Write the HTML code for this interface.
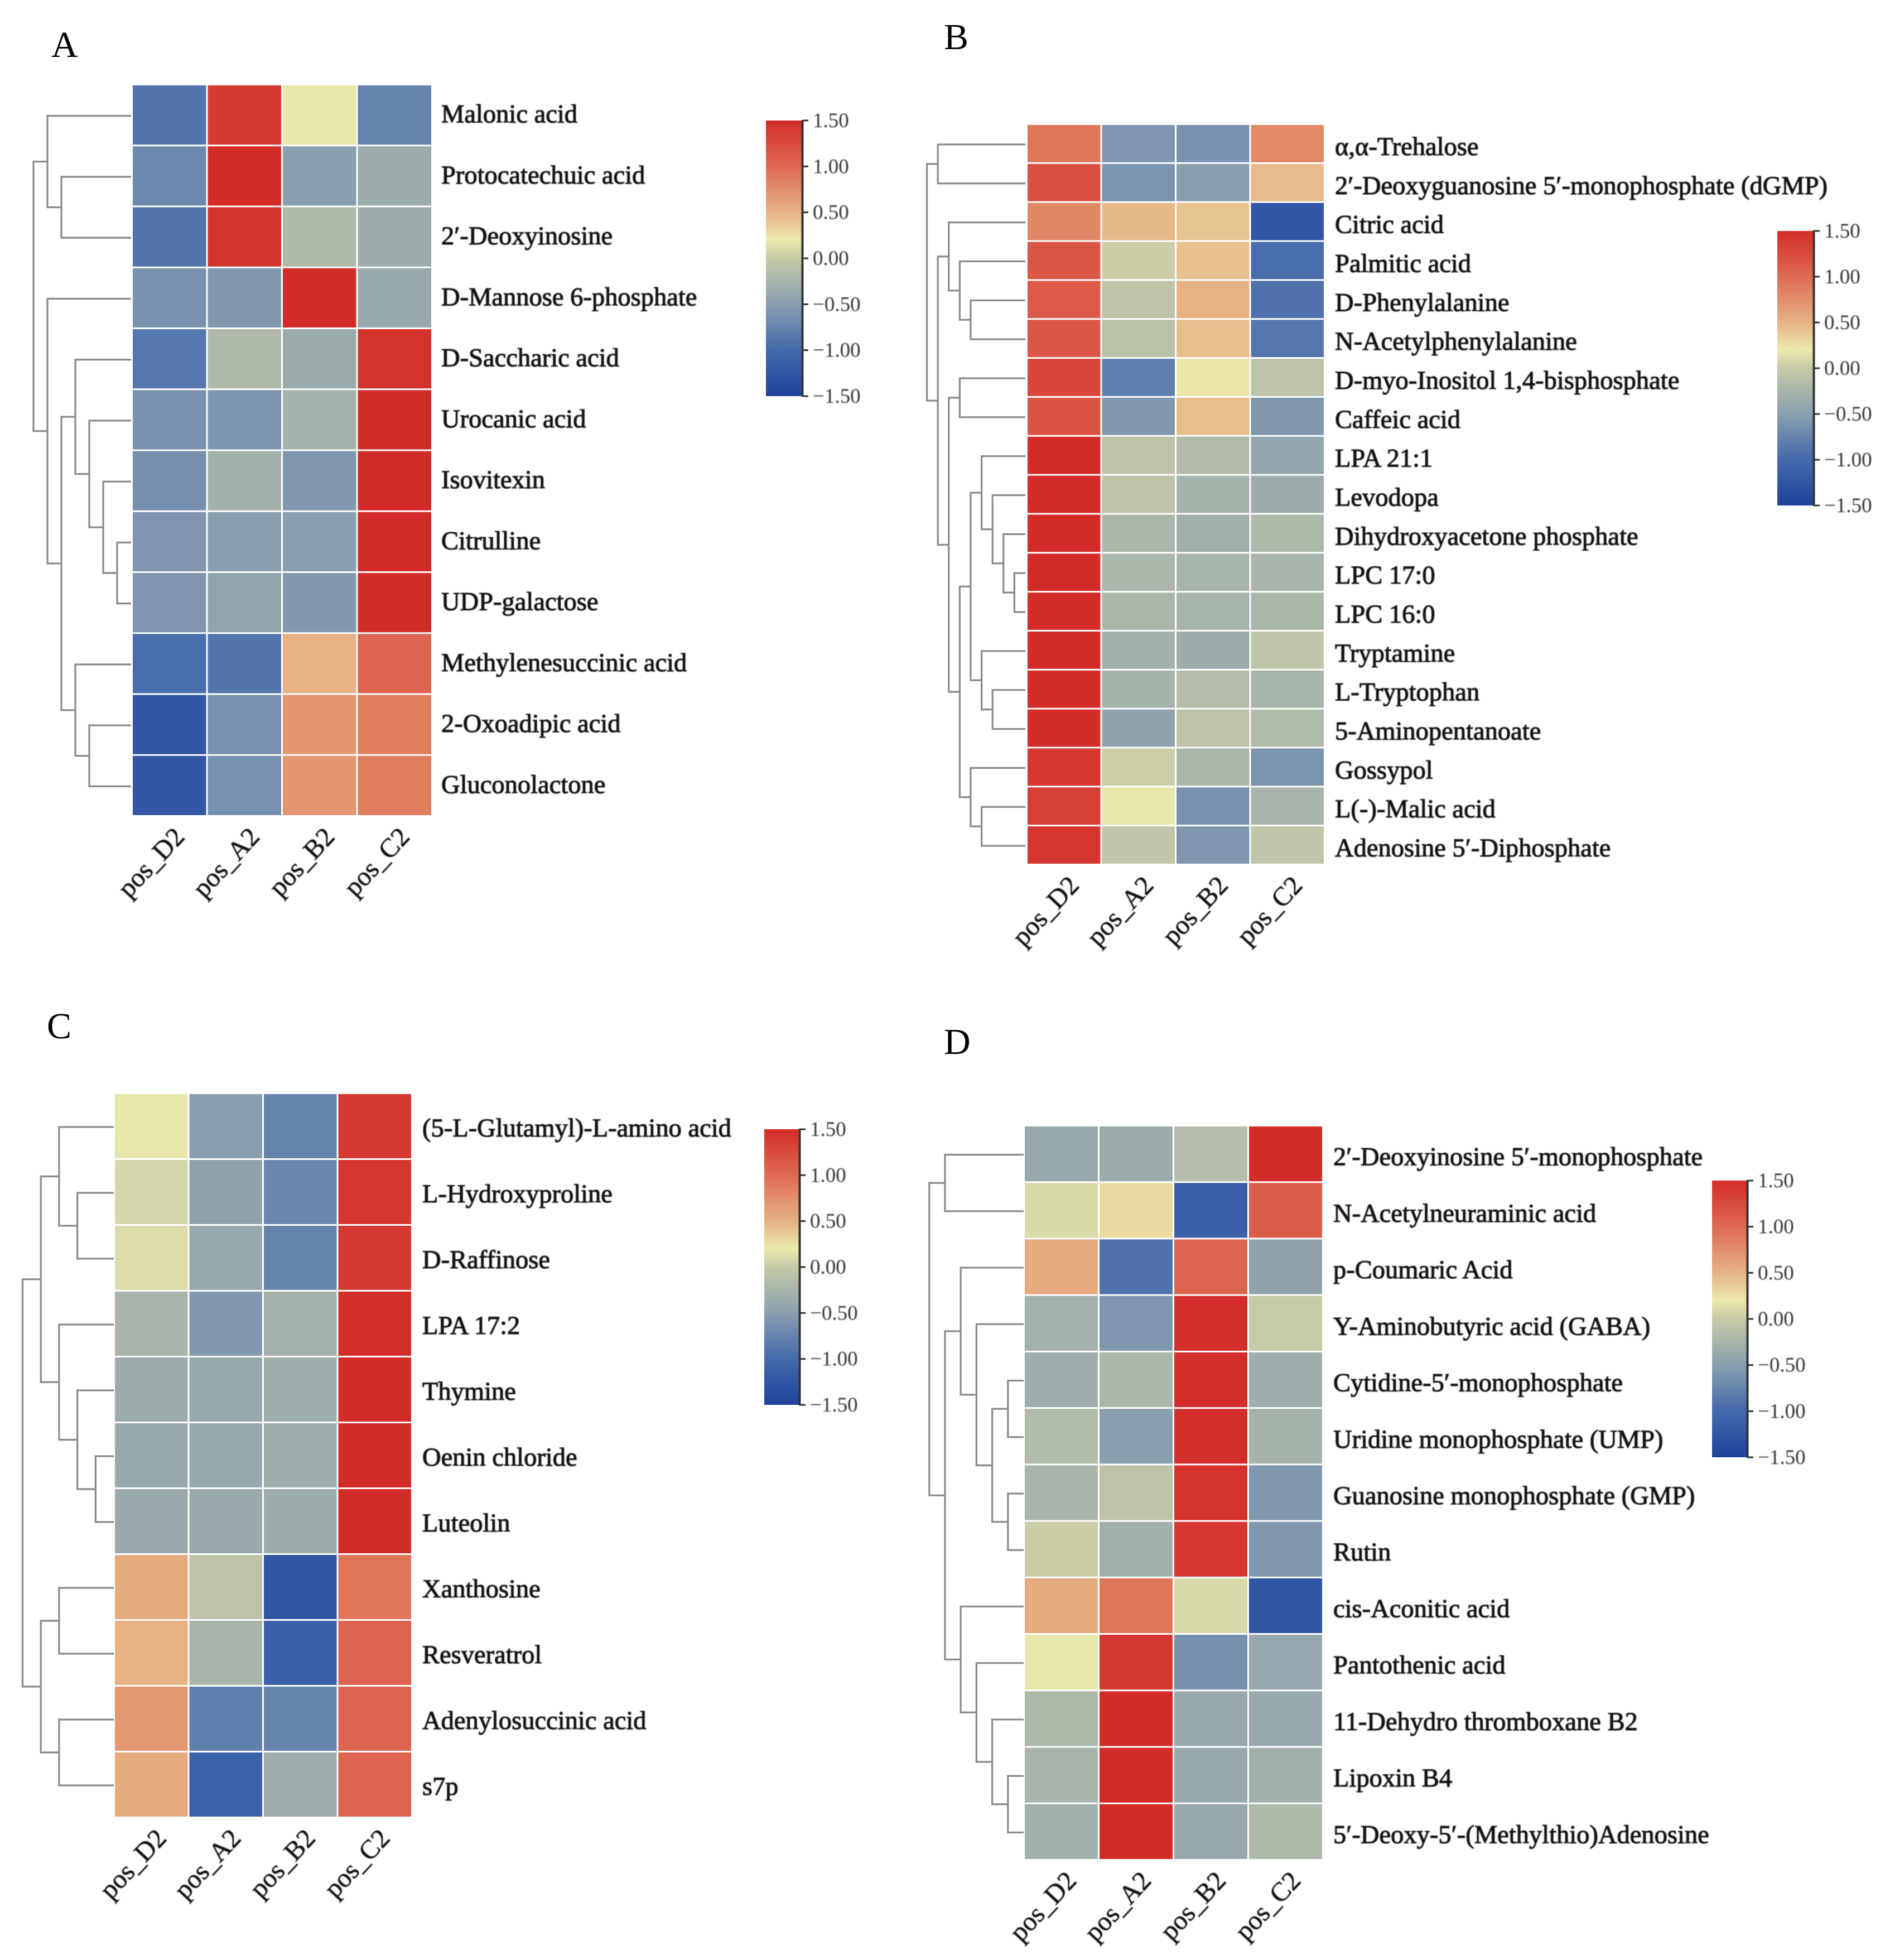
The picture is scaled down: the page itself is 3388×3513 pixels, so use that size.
<!DOCTYPE html>
<html>
<head>
<meta charset="utf-8">
<title>Metabolite heatmaps</title>
<style>
html,body{margin:0;padding:0;background:#fff;}
svg{display:block;}
text{font-family:"Liberation Serif","DejaVu Serif",serif;}
.blur{filter:blur(0.7px);}
</style>
</head>
<body>
<svg id="figure" xmlns="http://www.w3.org/2000/svg" width="3388" height="3513" viewBox="0 0 3388 3513">
<rect x="0" y="0" width="3388" height="3513" fill="#fff"/>
<defs id="defs"></defs>
</svg>
<script>
// ---------- shared data ----------
const sampleNames = ["pos_D2", "pos_A2", "pos_B2", "pos_C2"];
const legendTicks = [1.5, 1.0, 0.5, 0.0, -0.5, -1.0, -1.5];
const legendTickLabels = ["1.50", "1.00", "0.50", "0.00", "\u22120.50", "\u22121.00", "\u22121.50"];
const scaleValues = [-1.5, -1.0, -0.5, 0.0, 0.2, 0.5, 1.0, 1.5];
const scaleColors = ["#1f439b", "#4469ac", "#8a9fae", "#c6caa8", "#ebe9ab", "#e6b284", "#de6a52", "#d32c28"];

// ---------- panel A ----------
const metabolitesA = ["Malonic acid", "Protocatechuic acid", "2\u2032-Deoxyinosine", "D-Mannose 6-phosphate", "D-Saccharic acid", "Urocanic acid", "Isovitexin", "Citrulline", "UDP-galactose", "Methylenesuccinic acid", "2-Oxoadipic acid", "Gluconolactone"];
const valuesA = [
  [-0.90, 1.38, 0.18, -0.75],
  [-0.70, 1.50, -0.50, -0.35],
  [-0.90, 1.45, -0.20, -0.35],
  [-0.62, -0.56, 1.50, -0.38],
  [-0.87, -0.20, -0.36, 1.45],
  [-0.62, -0.60, -0.28, 1.50],
  [-0.65, -0.30, -0.57, 1.50],
  [-0.58, -0.50, -0.50, 1.50],
  [-0.58, -0.44, -0.55, 1.50],
  [-0.97, -0.90, 0.50, 1.05],
  [-1.25, -0.63, 0.70, 0.87],
  [-1.25, -0.63, 0.70, 0.87]
];
// tree nodes: [merge level, left child, right child]; a number child is a row index
const treeA = [7,
  [6, 0, [5, 1, 2]],
  [6, 3, [5,
    [4, 4, [3, 5, [2, 6, [1, 7, 8]]]],
    [4, 9, [3, 10, 11]]
  ]]
];

// ---------- panel B ----------
const metabolitesB = ["\u03b1,\u03b1-Trehalose", "2\u2032-Deoxyguanosine 5\u2032-monophosphate (dGMP)", "Citric acid", "Palmitic acid", "D-Phenylalanine", "N-Acetylphenylalanine", "D-myo-Inositol 1,4-bisphosphate", "Caffeic acid", "LPA 21:1", "Levodopa", "Dihydroxyacetone phosphate", "LPC 17:0", "LPC 16:0", "Tryptamine", "L-Tryptophan", "5-Aminopentanoate", "Gossypol", "L(-)-Malic acid", "Adenosine 5\u2032-Diphosphate"];
const valuesB = [
  [0.92, -0.58, -0.62, 0.78],
  [1.20, -0.60, -0.50, 0.45],
  [0.80, 0.47, 0.40, -1.25],
  [1.15, 0.02, 0.42, -0.97],
  [1.12, -0.08, 0.50, -0.92],
  [1.15, -0.10, 0.43, -0.87],
  [1.28, -0.80, 0.22, -0.07],
  [1.18, -0.57, 0.43, -0.57],
  [1.50, -0.08, -0.17, -0.43],
  [1.50, -0.07, -0.27, -0.35],
  [1.50, -0.22, -0.32, -0.20],
  [1.50, -0.22, -0.26, -0.24],
  [1.50, -0.22, -0.26, -0.22],
  [1.50, -0.30, -0.35, -0.05],
  [1.50, -0.27, -0.15, -0.25],
  [1.50, -0.45, -0.08, -0.18],
  [1.42, 0.03, -0.22, -0.60],
  [1.35, 0.18, -0.63, -0.24],
  [1.42, -0.05, -0.58, -0.05]
];
const treeB = [9,
  [8, 0, 1],
  [8,
    [7, 2, [6, 3, [5, 4, 5]]],
    [7,
      [6, 6, 7],
      [6,
        [5,
          [4, 8, [3, 9, [2, 10, [1, 11, 12]]]],
          [4, 13, [3, 14, 15]]
        ],
        [5, 16, [4, 17, 18]]
      ]
    ]
  ]
];

// ---------- panel C ----------
const metabolitesC = ["(5-L-Glutamyl)-L-amino acid", "L-Hydroxyproline", "D-Raffinose", "LPA 17:2", "Thymine", "Oenin chloride", "Luteolin", "Xanthosine", "Resveratrol", "Adenylosuccinic acid", "s7p"];
const valuesC = [
  [0.18, -0.50, -0.75, 1.40],
  [0.08, -0.45, -0.72, 1.43],
  [0.12, -0.38, -0.75, 1.40],
  [-0.24, -0.55, -0.29, 1.48],
  [-0.35, -0.38, -0.33, 1.50],
  [-0.38, -0.38, -0.33, 1.50],
  [-0.37, -0.37, -0.35, 1.50],
  [0.55, -0.08, -1.25, 0.92],
  [0.50, -0.24, -1.12, 1.05],
  [0.68, -0.80, -0.75, 1.05],
  [0.55, -1.10, -0.33, 1.05]
];
const treeC = [5,
  [4,
    [3, 0, [2, 1, 2]],
    [3, 3, [2, 4, [1, 5, 6]]]
  ],
  [4,
    [3, 7, 8],
    [3, 9, 10]
  ]
];

// ---------- panel D ----------
const metabolitesD = ["2\u2032-Deoxyinosine 5\u2032-monophosphate", "N-Acetylneuraminic acid", "p-Coumaric Acid", "Y-Aminobutyric acid (GABA)", "Cytidine-5\u2032-monophosphate", "Uridine monophosphate (UMP)", "Guanosine monophosphate (GMP)", "Rutin", "cis-Aconitic acid", "Pantothenic acid", "11-Dehydro thromboxane B2", "Lipoxin B4", "5\u2032-Deoxy-5\u2032-(Methylthio)Adenosine"];
const valuesD = [
  [-0.38, -0.36, -0.15, 1.50],
  [0.10, 0.28, -1.12, 1.10],
  [0.55, -0.92, 1.05, -0.45],
  [-0.29, -0.58, 1.48, 0.00],
  [-0.33, -0.22, 1.48, -0.33],
  [-0.18, -0.50, 1.48, -0.27],
  [-0.24, -0.08, 1.45, -0.57],
  [0.02, -0.30, 1.42, -0.57],
  [0.55, 0.92, 0.10, -1.25],
  [0.18, 1.40, -0.65, -0.40],
  [-0.20, 1.50, -0.38, -0.38],
  [-0.24, 1.50, -0.38, -0.30],
  [-0.30, 1.50, -0.38, -0.20]
];
const treeD = [6,
  [5, 0, 1],
  [5,
    [4, 2, [3, 3, [2, [1, 4, 5], [1, 6, 7]]]],
    [4, 8, [3, 9, [2, 10, [1, 11, 12]]]]
  ]
];

// ---------- layout (pixels) ----------
const panelLayouts = [
  {id:"a", letter:"A", letterX:92, letterY:102, left:238, right:776, top:153, bottom:1464, labelX:791, labelDy:12, levelStep:25, leafEnd:235, barLeft:1373, barRight:1437, barTop:216, barBottom:710, names:metabolitesA, values:valuesA, tree:treeA},
  {id:"b", letter:"B", letterX:1692, letterY:88, left:1842, right:2376, top:224, bottom:1551, labelX:2393, labelDy:19, levelStep:19.6, leafEnd:1838, barLeft:3186, barRight:3250, barTop:414, barBottom:906, names:metabolitesB, values:valuesB, tree:treeB},
  {id:"c", letter:"C", letterX:84, letterY:1861, left:206, right:740, top:1961, bottom:3259, labelX:757, labelDy:17, levelStep:32.7, leafEnd:204, barLeft:1370, barRight:1432, barTop:2024, barBottom:2518, names:metabolitesC, values:valuesC, tree:treeC},
  {id:"d", letter:"D", letterX:1692, letterY:1889, left:1837, right:2373, top:2019, bottom:3335, labelX:2390, labelDy:19, levelStep:28.2, leafEnd:1835, barLeft:3069, barRight:3131, barTop:2116, barBottom:2612, names:metabolitesD, values:valuesD, tree:treeD}
];

const svgNS = "http://www.w3.org/2000/svg";
const figure = document.getElementById("figure");
const defs = document.getElementById("defs");

function make(tag, attrs, parent) {
  const el = document.createElementNS(svgNS, tag);
  for (const k in attrs) el.setAttribute(k, attrs[k]);
  if (parent) parent.appendChild(el);
  return el;
}

function hexToRgb(h) {
  return [parseInt(h.slice(1,3),16), parseInt(h.slice(3,5),16), parseInt(h.slice(5,7),16)];
}
function colorFor(v) {
  const c = Math.max(scaleValues[0], Math.min(scaleValues[scaleValues.length-1], v));
  for (let i = 0; i < scaleValues.length - 1; i++) {
    if (c <= scaleValues[i+1]) {
      const t = (c - scaleValues[i]) / (scaleValues[i+1] - scaleValues[i]);
      const a = hexToRgb(scaleColors[i]), b = hexToRgb(scaleColors[i+1]);
      return "rgb(" + a.map((x,j) => Math.round(x + (b[j]-x)*t)).join(",") + ")";
    }
  }
  return scaleColors[scaleColors.length-1];
}
function slug(s) {
  return s.toLowerCase().replace(/[^a-z0-9]+/g, "-").replace(/^-|-$/g, "");
}

function drawTree(node, yOf, xOf, parent, prefix) {
  if (typeof node === "number") return {x: xOf(0), y: yOf(node)};
  const l = drawTree(node[1], yOf, xOf, parent, prefix);
  const r = drawTree(node[2], yOf, xOf, parent, prefix);
  const x = xOf(node[0]);
  const path = make("path", {
    d: "M" + l.x + " " + l.y + "H" + x + "V" + r.y + "H" + r.x,
    fill: "none", stroke: "#8a8a8a", "stroke-width": 3.2
  }, parent);
  
  
  return {x: x, y: (l.y + r.y) / 2};
}

panelLayouts.forEach(function (p) {
  const panel = make("g", {}, figure);
  
  

  const letter = make("text", {x: p.letterX, y: p.letterY, "font-size": 66, fill: "#000"}, panel);
  letter.textContent = p.letter;
  
  

  // axis functions
  const colW = (p.right - p.left) / sampleNames.length;
  const rowH = (p.bottom - p.top) / p.names.length;
  const xBand = i => p.left + i * colW;
  const yBand = i => p.top + i * rowH;
  const yCenter = i => yBand(i) + rowH / 2;
  const xLevel = lvl => p.leafEnd - lvl * p.levelStep;
  const yLegend = v => p.barTop + (1.5 - v) / 3 * (p.barBottom - p.barTop);

  // heatmap
  const cells = make("g", {}, panel);
  
  
  p.values.forEach(function (row, r) {
    row.forEach(function (v, c) {
      const cell = make("rect", {
        x: xBand(c), y: yBand(r),
        width: colW - 3, height: rowH - 3,
        fill: colorFor(v)
      }, cells);
      
      
    });
  });

  // dendrogram
  const dendro = make("g", {}, panel);
  
  
  drawTree(p.tree, yCenter, xLevel, dendro, 'panel-' + p.id);

  // row labels
  const rowLabels = make("g", {class: "blur"}, panel);
  
  
  p.names.forEach(function (name, r) {
    const t = make("text", {
      x: p.labelX, y: yCenter(r) + p.labelDy,
      "font-size": 46.5, fill: "#111", stroke: "#111", "stroke-width": 1.1
    }, rowLabels);
    t.textContent = name;
    
    
  });

  // column labels
  const colLabels = make("g", {class: "blur"}, panel);
  
  
  sampleNames.forEach(function (name, c) {
    const ex = xBand(c) + colW / 2 + 28;
    const ey = p.bottom + 38;
    const t = make("text", {
      x: ex, y: ey, "text-anchor": "end",
      transform: "rotate(-47 " + ex + " " + ey + ")",
      "font-size": 48, fill: "#111", stroke: "#111", "stroke-width": 0.6
    }, colLabels);
    t.textContent = name;
    
    
  });

  // colour legend
  const legend = make("g", {}, panel);
  
  
  const grad = make("linearGradient", {id: "grad-" + p.id, x1: 0, y1: 0, x2: 0, y2: 1}, defs);
  scaleValues.forEach(function (v, i) {
    make("stop", {offset: (1.5 - v) / 3, "stop-color": scaleColors[i]}, grad);
  });
  // gradient offsets must ascend, so reorder top-to-bottom
  Array.from(grad.children).reverse().forEach(s => grad.appendChild(s));
  const bar = make("rect", {
    x: p.barLeft, y: p.barTop,
    width: p.barRight - p.barLeft, height: p.barBottom - p.barTop,
    fill: "url(#grad-" + p.id + ")"
  }, legend);
  
  
  const axis = make("line", {
    x1: p.barRight + 1.5, x2: p.barRight + 1.5,
    y1: p.barTop - 1, y2: p.barBottom + 1,
    stroke: "#333", "stroke-width": 4
  }, legend);
  
  
  legendTicks.forEach(function (v, i) {
    const y = yLegend(v);
    const tick = make("line", {
      x1: p.barRight + 2, x2: p.barRight + 12, y1: y, y2: y,
      stroke: "#333", "stroke-width": 3
    }, legend);
    
    
    const lab = make("text", {
      x: p.barRight + 20, y: y + 12,
      "font-size": 37, fill: "#333", class: "blur"
    }, legend);
    lab.textContent = legendTickLabels[i];
    
    
  });
});
</script>
</body>
</html>
